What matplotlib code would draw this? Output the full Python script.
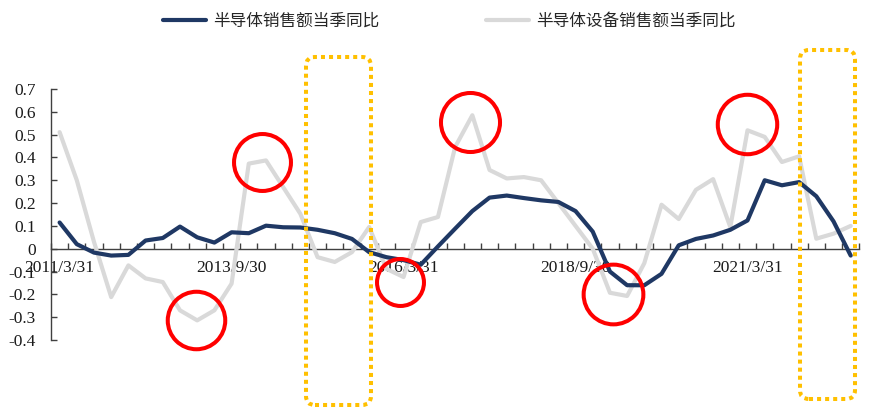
import matplotlib
matplotlib.use("Agg")
import matplotlib.pyplot as plt
import pandas as pd
from matplotlib.patches import FancyBboxPatch
from matplotlib.ticker import FixedLocator, FuncFormatter

# Quarterly categories, 2011Q1 .. 2022Q3
quarters = pd.date_range("2011-03-31", periods=47, freq="QE")
categories = [f"{d.year}/{d.month}/{d.day}" for d in quarters]
label_every = 10

# Semiconductor sales, YoY by quarter
chip_sales_yoy = [
    0.115, 0.020, -0.017, -0.030, -0.027, 0.036, 0.047, 0.097, 0.050, 0.027,
    0.072, 0.068, 0.101, 0.094, 0.093, 0.083, 0.068, 0.043, -0.015, -0.037,
    -0.050, -0.070, 0.010, 0.088, 0.165, 0.224, 0.233, 0.222, 0.212, 0.205,
    0.165, 0.075, -0.100, -0.160, -0.160, -0.110, 0.015, 0.043, 0.058, 0.083,
    0.124, 0.300, 0.278, 0.292, 0.230, 0.120, -0.030,
]

# Semiconductor equipment sales, YoY by quarter
equip_sales_yoy = [
    0.511, 0.300, 0.030, -0.212, -0.073, -0.130, -0.146, -0.270, -0.314, -0.270,
    -0.153, 0.373, 0.387, 0.270, 0.153, -0.037, -0.058, -0.015, 0.095, -0.088,
    -0.124, 0.117, 0.139, 0.446, 0.585, 0.345, 0.308, 0.314, 0.300, 0.200,
    0.100, 0.000, -0.193, -0.207, -0.063, 0.193, 0.130, 0.258, 0.305, 0.095,
    0.519, 0.490, 0.380, 0.405, 0.044, 0.066, 0.100,
]

series_names = ["半导体销售额当季同比", "半导体设备销售额当季同比"]

# Highlight rings: (category position, value, marker size in pt)
rings = [
    (11.77, 0.381, 41.0),
    (7.94, -0.314, 41.4),
    (23.85, 0.555, 42.5),
    (19.78, -0.146, 33.8),
    (32.19, -0.200, 43.0),
    (39.97, 0.545, 42.8),
]

# Dotted boxes (inches from the lower-left corner of the figure): x, y, w, h
boxes = [
    (3.06, 0.03, 0.65, 3.48),
    (8.00, 0.09, 0.55, 3.49),
]

NAVY = "#1F3864"
LIGHT = "#D9D9D9"

fig = plt.figure(figsize=(8.69, 4.08), dpi=100)
ax = fig.add_axes([51 / 869, 68 / 408, (859.3 - 51) / 869, 251 / 408])

x = list(range(len(categories)))
ax.plot(x, equip_sales_yoy, color=LIGHT, lw=3.0, zorder=3,
        solid_capstyle="round", solid_joinstyle="round", label=series_names[1])
ax.plot(x, chip_sales_yoy, color=NAVY, lw=3.0, zorder=4,
        solid_capstyle="round", solid_joinstyle="round", label=series_names[0])

for cx, cy, ms in rings:
    ax.plot([cx], [cy], marker="o", ms=ms, mfc="none", mec="#FF0000",
            mew=2.9, ls="none", zorder=6, clip_on=False)

ax.set_xlim(-0.5, len(categories) - 0.5)
ax.set_ylim(-0.4, 0.7)

# Axes: y spine on the left, x spine through zero
for side in ("top", "right"):
    ax.spines[side].set_visible(False)
ax.spines["bottom"].set_position(("data", 0))
for side in ("left", "bottom"):
    ax.spines[side].set_color("#404040")
    ax.spines[side].set_linewidth(1.0)

yticks = [round(-0.4 + 0.1 * i, 1) for i in range(12)]
ax.yaxis.set_major_locator(FixedLocator(yticks))
ax.yaxis.set_major_formatter(FuncFormatter(lambda v, p: "0" if abs(v) < 1e-9 else f"{v:.1f}"))
ax.tick_params(axis="y", direction="in", length=4, width=1.0, color="#404040",
               pad=11, labelsize=12.5, labelcolor="#1a1a1a")

label_pos = list(range(0, len(categories), label_every))
ax.xaxis.set_major_locator(FixedLocator(label_pos))
ax.xaxis.set_major_formatter(FuncFormatter(lambda v, p: categories[int(round(v))]))
ax.xaxis.set_minor_locator(FixedLocator([i - 0.5 for i in range(len(categories) + 1)]))
ax.tick_params(axis="x", which="major", length=0, pad=8, labelsize=12.5,
               labelcolor="#1a1a1a")
ax.tick_params(axis="x", which="minor", direction="in", length=4, width=1.0,
               color="#404040")

for lab in ax.get_xticklabels() + ax.get_yticklabels():
    lab.set_family("Liberation Serif")

for bx, by, bw, bh in boxes:
    patch = FancyBboxPatch((bx, by), bw, bh,
                           boxstyle="round,pad=0,rounding_size=0.09",
                           transform=fig.dpi_scale_trans, fill=False,
                           ec="#FFC000", lw=2.9, ls=(0, (1, 1)), zorder=7)
    fig.add_artist(patch)

handles, labels = ax.get_legend_handles_labels()
order = [1, 0]
leg = fig.legend([handles[i] for i in order], [labels[i] for i in order],
                 loc="center", bbox_to_anchor=(449 / 869, 1 - 21 / 408),
                 ncol=2, frameon=False, handlelength=2.6, handletextpad=0.4,
                 columnspacing=6.4,
                 prop={"family": ["Noto Sans CJK SC", "DejaVu Sans"], "size": 12})
for t in leg.get_texts():
    t.set_color("#262626")

fig.savefig("out.png", dpi=100)
